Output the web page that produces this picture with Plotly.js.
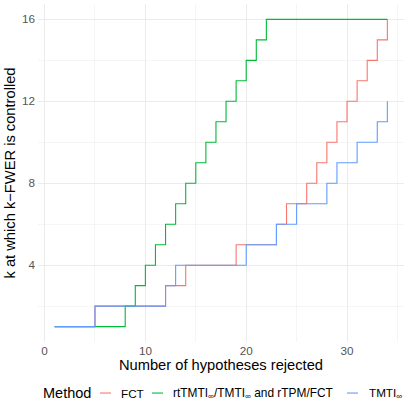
<!DOCTYPE html>
<html>
<head>
<meta charset="utf-8">
<script src="https://cdn.plot.ly/plotly-3.0.1.min.js"></script>
<style>
  html, body { margin: 0; padding: 0; background: #fff; }
  #plot { width: 409px; height: 409px; }
</style>
</head>
<body>
<div id="plot"></div>
<script>
// number of hypotheses rejected
var rejected = [1, 2, 3, 4, 5, 6, 7, 8, 9, 10, 11, 12, 13, 14, 15, 16, 17,
  18, 19, 20, 21, 22, 23, 24, 25, 26, 27, 28, 29, 30, 31, 32, 33, 34];

// k at which k-FWER is controlled, per method
var fct = [1, 1, 1, 1, 2, 2, 2, 2, 2, 2, 2, 3, 3, 4, 4, 4, 4, 4, 5, 5, 5,
  5, 6, 7, 7, 8, 9, 10, 11, 12, 13, 14, 15, 16];
var rtTMTI = [1, 1, 1, 1, 1, 1, 1, 2, 3, 4, 5, 6, 7, 8, 9, 10, 11, 12, 13,
  14, 15, 16, 16, 16, 16, 16, 16, 16, 16, 16, 16, 16, 16, 16];
var tmti = [1, 1, 1, 1, 2, 2, 2, 2, 2, 2, 2, 3, 4, 4, 4, 4, 4, 4, 4, 5, 5,
  5, 6, 6, 7, 7, 7, 8, 9, 9, 10, 10, 11, 12];

var methodNames = ["FCT", "rtTMTI<sub>∞</sub>/TMTI<sub>∞</sub> and rTPM/FCT", "TMTI<sub>∞</sub>"];
var methodColors = ["#F8766D", "#00BA38", "#619CFF"];
var series = [fct, rtTMTI, tmti];

var font = "Liberation Sans, Arial, sans-serif";

var traces = series.map(function(ys, i) {
  return {
    x: rejected,
    y: ys,
    type: "scatter",
    mode: "lines",
    name: methodNames[i],
    line: { shape: "hv", color: methodColors[i], width: 1.1 },
    showlegend: false,
    hoverinfo: "skip"
  };
});

// hand-made legend row, ggplot style
var legendY = -0.151;
var px = function(p) { return (p - 38) / 366; };
var annotations = [
  { text: "Method", x: px(41), font: { size: 14.5, color: "#000" } },
  { text: methodNames[0], x: px(119), font: { size: 11.7, color: "#000" } },
  { text: methodNames[1], x: px(171), font: { size: 11.9, color: "#000" } },
  { text: methodNames[2], x: px(367), font: { size: 11.7, color: "#000" } }
].map(function(a) {
  a.xref = "paper"; a.yref = "paper"; a.y = legendY;
  a.xanchor = "left"; a.yanchor = "middle"; a.showarrow = false;
  a.font.family = font;
  return a;
});
var keyStarts = [100, 152, 347];
var shapes = keyStarts.map(function(s, i) {
  return {
    type: "line", xref: "paper", yref: "paper",
    x0: px(s), x1: px(s + 11), y0: legendY, y1: legendY,
    line: { color: methodColors[i], width: 1.1 }
  };
});

var layout = {
  width: 409,
  height: 409,
  margin: { l: 38, r: 5, t: 4, b: 67 },
  paper_bgcolor: "#fff",
  plot_bgcolor: "#fff",
  font: { family: font },
  xaxis: {
    range: [-0.65, 35.65],
    tickvals: [0, 10, 20, 30],
    ticks: "",
    showline: false,
    zeroline: false,
    gridcolor: "#EBEBEB",
    gridwidth: 1,
    minor: { tickvals: [5, 15, 25, 35], showgrid: true, gridcolor: "#EBEBEB", gridwidth: 0.5 },
    tickfont: { size: 11.7, color: "#555" },
    title: { text: "Number of hypotheses rejected", font: { size: 14.7, color: "#000" }, standoff: 4 }
  },
  yaxis: {
    range: [0.25, 16.75],
    tickvals: [4, 8, 12, 16],
    ticks: "",
    ticklabelstandoff: 2,
    showline: false,
    zeroline: false,
    gridcolor: "#EBEBEB",
    gridwidth: 1,
    minor: { tickvals: [2, 6, 10, 14], showgrid: true, gridcolor: "#EBEBEB", gridwidth: 0.5 },
    tickfont: { size: 11.7, color: "#555" },
    title: { text: "k at which k−FWER is controlled", font: { size: 14.7, color: "#000" }, standoff: 2 }
  },
  annotations: annotations,
  shapes: shapes,
  hovermode: false
};

Plotly.newPlot("plot", traces, layout, { displayModeBar: false, staticPlot: true });
</script>
</body>
</html>
